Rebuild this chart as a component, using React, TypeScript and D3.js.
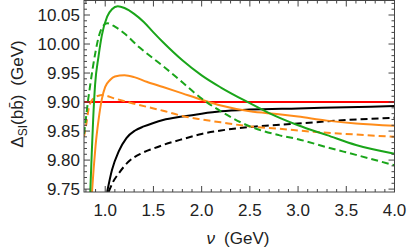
import React, { useEffect, useRef } from 'react';
import * as d3 from 'd3';

// data (nu in GeV, Delta in GeV)
const redNu = [0.78, 4.0];
const redVal = [9.9, 9.9];

const blackSolidNu = [1.02, 1.07, 1.14, 1.22, 1.31, 1.4, 1.5, 1.6, 1.8, 2.0, 2.2, 2.5, 3.0, 3.5, 4.0];
const blackSolidVal = [9.745, 9.783, 9.815, 9.838, 9.851, 9.858, 9.864, 9.869, 9.875, 9.88, 9.884, 9.887, 9.889, 9.891, 9.893];

const blackDashNu = [1.035, 1.08, 1.14, 1.24, 1.38, 1.5, 1.6, 1.8, 2.0, 2.2, 2.5, 3.0, 3.5, 4.0];
const blackDashVal = [9.745, 9.762, 9.777, 9.797, 9.812, 9.82, 9.826, 9.836, 9.845, 9.851, 9.857, 9.863, 9.869, 9.873];

const greenSolidNu = [0.845, 0.86, 0.875, 0.895, 0.93, 0.965, 1.02, 1.07, 1.13, 1.2, 1.3, 1.4, 1.5, 1.6, 1.8, 2.0, 2.2, 2.5, 2.7, 3.0, 3.3, 3.6, 4.0];
const greenSolidVal = [9.745, 9.81, 9.87, 9.93, 9.978, 10.015, 10.047, 10.06, 10.065, 10.062, 10.052, 10.038, 10.02, 10.003, 9.972, 9.946, 9.925, 9.898, 9.881, 9.86, 9.843, 9.826, 9.811];

const greenDashNu = [0.78, 0.8, 0.82, 0.845, 0.87, 0.9, 0.93, 0.97, 1.02, 1.1, 1.2, 1.35, 1.5, 1.6, 1.8, 2.0, 2.2, 2.5, 2.8, 3.0, 3.3, 3.6, 4.0];
const greenDashVal = [9.845, 9.872, 9.9, 9.93, 9.958, 9.987, 10.011, 10.029, 10.036, 10.03, 10.018, 9.995, 9.975, 9.962, 9.934, 9.906, 9.884, 9.858, 9.843, 9.836, 9.822, 9.809, 9.791];

const orangeSolidNu = [0.863, 0.88, 0.9, 0.93, 0.965, 1.0, 1.05, 1.1, 1.2, 1.3, 1.43, 1.6, 1.8, 2.0, 2.2, 2.5, 2.8, 3.0, 3.3, 3.6, 4.0];
const orangeSolidVal = [9.745, 9.785, 9.825, 9.868, 9.905, 9.926, 9.938, 9.944, 9.946, 9.943, 9.935, 9.926, 9.915, 9.904, 9.894, 9.884, 9.879, 9.875, 9.868, 9.863, 9.859];

const orangeDashNu = [0.78, 0.8, 0.83, 0.87, 0.93, 0.97, 1.1, 1.28, 1.45, 1.6, 1.8, 2.0, 2.2, 2.5, 2.8, 3.0, 3.3, 3.6, 4.0];
const orangeDashVal = [9.84, 9.858, 9.89, 9.905, 9.911, 9.912, 9.906, 9.898, 9.891, 9.885, 9.876, 9.87, 9.865, 9.858, 9.854, 9.851, 9.847, 9.844, 9.84];

const xTicks = [1.0, 1.5, 2.0, 2.5, 3.0, 3.5, 4.0];
const yTicks = [9.75, 9.8, 9.85, 9.9, 9.95, 10.0, 10.05];

const GREEN = '#1aa51a';
const ORANGE = '#ff8c1a';

const series = [
    { nu: redNu, val: redVal, color: '#ff0000', dash: null },
    { nu: blackSolidNu, val: blackSolidVal, color: '#000000', dash: null },
    { nu: blackDashNu, val: blackDashVal, color: '#000000', dash: '7,4' },
    { nu: orangeSolidNu, val: orangeSolidVal, color: ORANGE, dash: null },
    { nu: orangeDashNu, val: orangeDashVal, color: ORANGE, dash: '7,4' },
    { nu: greenSolidNu, val: greenSolidVal, color: GREEN, dash: null },
    { nu: greenDashNu, val: greenDashVal, color: GREEN, dash: '7,4' },
];

const App = () => {
    const svgRef = useRef<SVGSVGElement>(null);
    const width = 407;
    const height = 249;
    const margin = { left: 84, right: 12.5, top: 0.5, bottom: 57 };

    useEffect(() => {
        const svg = d3.select(svgRef.current);
        svg.selectAll('*').remove();

        const x = d3.scaleLinear().domain([0.78, 4.0]).range([margin.left, width - margin.right]);
        const y = d3.scaleLinear().domain([9.745, 10.075]).range([height - margin.bottom, margin.top]);
        const [x0, x1] = x.range();
        const [y0, y1] = y.range();

        svg.append('defs').append('clipPath').attr('id', 'plot-clip')
            .append('rect')
            .attr('x', x0).attr('y', y1)
            .attr('width', x1 - x0).attr('height', y0 - y1);

        // curves
        const line = d3.line<[number, number]>()
            .x(d => x(d[0]))
            .y(d => y(d[1]))
            .curve(d3.curveMonotoneX);

        const curves = svg.append('g').attr('clip-path', 'url(#plot-clip)');
        series.forEach(s => {
            const pts: [number, number][] = s.nu.map((n, i) => [n, s.val[i]]);
            curves.append('path')
                .attr('d', line(pts))
                .style('fill', 'none')
                .style('stroke', s.color)
                .style('stroke-width', '2px')
                .style('stroke-dasharray', s.dash ?? 'none');
        });

        // frame
        svg.append('rect')
            .attr('x', x0).attr('y', y1)
            .attr('width', x1 - x0).attr('height', y0 - y1)
            .style('fill', 'none')
            .style('stroke', '#444')
            .style('stroke-width', '1px');

        const ticks = svg.append('g').style('stroke', '#444').style('stroke-width', '1px');
        const xMinor = d3.range(8, 41).map(v => v / 10);
        xMinor.forEach(v => {
            const major = Math.abs(v * 2 - Math.round(v * 2)) < 1e-6;
            const len = major ? 6 : 3;
            ticks.append('line').attr('x1', x(v)).attr('x2', x(v)).attr('y1', y0).attr('y2', y0 - len);
            ticks.append('line').attr('x1', x(v)).attr('x2', x(v)).attr('y1', y1).attr('y2', y1 + len);
        });
        const yMinor = d3.range(975, 1008).map(v => v / 100);
        yMinor.forEach(v => {
            const major = Math.abs(v * 20 - Math.round(v * 20)) < 1e-6;
            const len = major ? 6 : 3;
            ticks.append('line').attr('y1', y(v)).attr('y2', y(v)).attr('x1', x0).attr('x2', x0 + len);
            ticks.append('line').attr('y1', y(v)).attr('y2', y(v)).attr('x1', x1).attr('x2', x1 - len);
        });

        // tick labels
        const font = '"Liberation Sans", Arial, sans-serif';
        svg.append('g').selectAll('text')
            .data(xTicks)
            .enter().append('text')
            .attr('x', d => x(d))
            .attr('y', y0 + 24)
            .style('text-anchor', 'middle')
            .style('font-family', font)
            .style('font-size', '17px')
            .style('fill', '#222')
            .text(d => d.toFixed(1));

        svg.append('g').selectAll('text')
            .data(yTicks)
            .enter().append('text')
            .attr('x', x0 - 4)
            .attr('y', d => y(d))
            .attr('dy', '0.35em')
            .style('text-anchor', 'end')
            .style('font-family', font)
            .style('font-size', '17px')
            .style('fill', '#222')
            .text(d => d.toFixed(2));

        // axis titles
        const xt = svg.append('text')
            .attr('x', 238)
            .attr('y', 244)
            .style('text-anchor', 'middle')
            .style('font-family', font)
            .style('font-size', '17px')
            .style('fill', '#222');
        xt.append('tspan').style('font-style', 'italic').text('ν');
        xt.append('tspan').attr('dx', 9).text('(GeV)');

        const yt = svg.append('text')
            .attr('transform', `translate(23, 94) rotate(-90)`)
            .style('text-anchor', 'middle')
            .style('font-family', font)
            .style('font-size', '17px')
            .style('fill', '#222');
        yt.append('tspan').text('Δ');
        yt.append('tspan').attr('dy', 4).style('font-size', '12px').text('SI');
        yt.append('tspan').attr('dy', -4).text('(bb\u0304)');
        yt.append('tspan').attr('dx', 9).text('(GeV)');
    }, []);

    return (
        <svg ref={svgRef} width={width} height={height}
            style={{ position: 'absolute', left: 0, top: 0, background: '#fff' }}></svg>
    );
};

export default App;
